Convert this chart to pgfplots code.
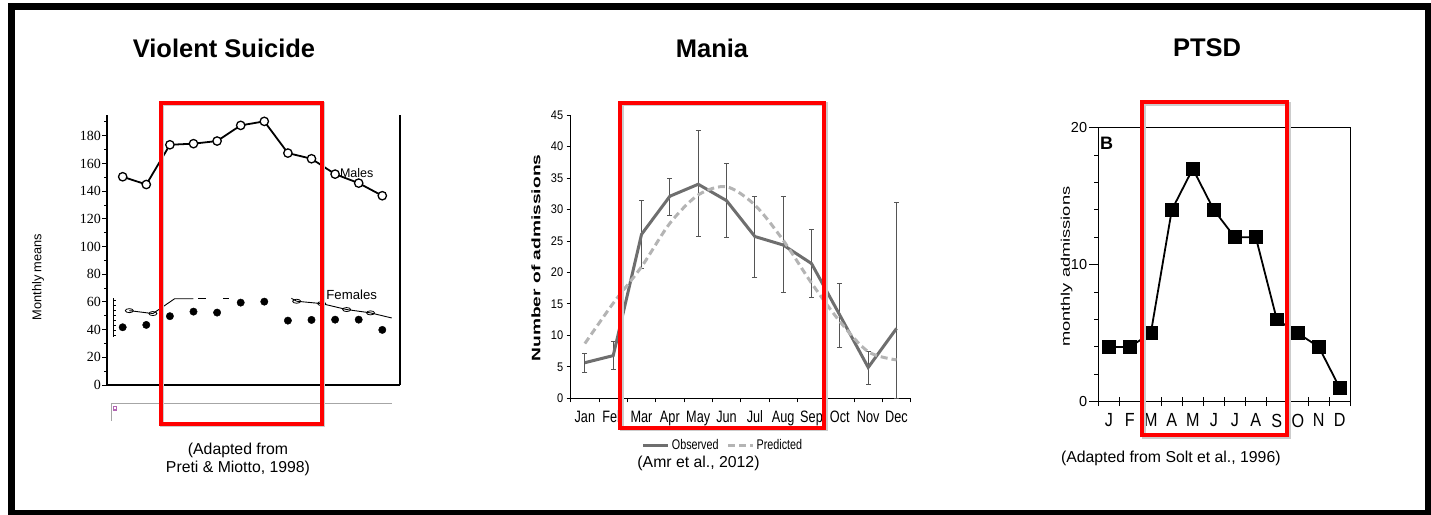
\documentclass[border=0pt]{standalone}
\usepackage{pgfplots}
\pgfplotsset{compat=1.18}
\usetikzlibrary{calc}
\usepackage{graphicx}
\usepackage{fontspec}
\setmainfont{Liberation Sans}
\newfontfamily\serifnum{Liberation Serif}
\newfontfamily\narrowA[FakeStretch=0.77]{Liberation Sans}
\newfontfamily\narrowB[FakeStretch=0.88]{Liberation Sans}
\newfontfamily\narrowC[FakeStretch=0.85]{Liberation Sans}
\definecolor{obsgray}{HTML}{6E6E6E}
\definecolor{predgray}{HTML}{B4B4B4}
\definecolor{errgray}{HTML}{555555}
\begin{document}
\begin{tikzpicture}
\useasboundingbox (0,0) rectangle (1431pt,-514pt);
% ---------------- Panel 1: Violent Suicide ----------------
\begin{axis}[at={(107pt,-385pt)}, anchor=south west, scale only axis,
  width=293pt, height=270pt,
  xmin=0.335, xmax=12.75, ymin=0, ymax=195,
  axis x line*=bottom, axis y line*=left,
  axis line style={line width=1.6pt, black},
  xtick=\empty,
  ytick={0,20,...,180}, minor ytick={10,30,...,190},
  tick align=outside, major tick length=5pt, minor tick length=3pt,
  tick style={black, line width=1pt},
  /pgf/number format/assume math mode=true,
  yticklabel style={font=\serifnum\fontsize{14}{14}\selectfont, inner sep=1pt},
  clip=false]
\draw[line width=1.6pt] (rel axis cs:1,0) -- (rel axis cs:1,1);
\addplot[black, line width=1.8pt, mark=*, mark size=4.2pt, mark options={fill=white, line width=1.3pt}]
 coordinates {(1,150.4) (2,144.8) (3,173.5) (4,174.3) (5,176.2) (6,187.5) (7,190.4) (8,167.5) (9,163.4) (10,152.3) (11,145.8) (12,136.7)};
\addplot[black, line width=0.9pt, mark=o, mark size=4pt, mark options={yscale=0.5, fill=white, line width=0.8pt}]
 coordinates {(1.28,53.7) (2.28,51.6)};
\addplot[black, line width=0.9pt, mark=none]
 coordinates {(2.28,51.6) (3.2,62.3) (4.0,62.3)};
\addplot[black, line width=0.9pt, mark=none] coordinates {(4.2,62.3) (4.55,62.3)};
\addplot[black, line width=0.9pt, mark=none] coordinates {(5.25,62.3) (5.5,62.3)};
\addplot[black, line width=0.9pt, mark=none] coordinates {(8.15,62.6) (8.37,60.5)};
\addplot[black, line width=0.9pt, mark=o, mark size=4pt, mark options={yscale=0.5, fill=white, line width=0.8pt}]
 coordinates {(8.37,60.5) (9.43,58.8) (10.49,54.5) (11.5,52.1)};
\addplot[black, line width=0.9pt, mark=none] coordinates {(11.5,52.1) (12.4,48.4)};
\addplot[only marks, mark=*, mark size=3.7pt, black]
 coordinates {(1,41.7) (2,43.4) (3,49.7) (4,53.0) (5,52.3) (6,59.5) (7,60.2) (8,46.5) (9,47.0) (10,47.2) (11,47.2) (12,39.8)};
\end{axis}
% ---------------- Panel 2: Mania ----------------
\begin{axis}[at={(570.7pt,-398.3pt)}, anchor=south west, scale only axis,
  width=340pt, height=283.3pt,
  xmin=0.5, xmax=12.5, ymin=0, ymax=45,
  axis x line*=bottom, axis y line*=left,
  axis line style={black, line width=1pt},
  xtick={0.5,1.5,...,12.5}, x tick label as interval,
  xticklabels={Jan,Feb,Mar,Apr,May,Jun,Jul,Aug,Sep,Oct,Nov,Dec},
  ytick={0,5,...,45},
  tick align=outside, major tick length=4pt,
  tick style={black, line width=0.8pt},
  /pgf/number format/assume math mode=true,
  xticklabel style={font=\narrowA\fontsize{16.5}{16.5}\selectfont, yshift=-5pt},
  yticklabel style={font=\narrowB\fontsize{12.5}{12.5}\selectfont},
  legend style={at={(0.448,-0.165)}, anchor=center, draw=none, fill=none,
    legend columns=2, font=\narrowA\fontsize{14}{14}\selectfont,
    /tikz/every even column/.append style={column sep=6pt}},
  legend image code/.code={\draw[#1] (0pt,0pt) -- (25pt,0pt);},
  clip=false]
\addplot[errgray, line width=0.9pt, draw=none, mark=none, forget plot,
  error bars/.cd, y dir=both, y explicit,
  error bar style={draw=errgray, line width=0.9pt},
  error mark=-, error mark options={draw=errgray, rotate=90, line width=0.9pt, mark size=2.4pt}]
 coordinates {
 (1,5.66) += (0,1.49) -= (0,1.53)
 (2,6.78) += (0,2.22) -= (0,2.18)
 (3,26.05) += (0,5.45) -= (0,5.4)
 (4,32.1) += (0,2.9) -= (0,3.0)
 (5,34.0) += (0,8.5) -= (0,8.3)
 (6,31.4) += (0,5.9) -= (0,5.8)
 (7,25.7) += (0,6.4) -= (0,6.5)
 (8,24.35) += (0,7.75) -= (0,7.55)
 (9,21.4) += (0,5.4) -= (0,5.4)
 (10,13.2) += (0,5.1) -= (0,5.1)
 (11,4.9) += (0,2.5) -= (0,2.7)
 (12,11.1) += (0,20.0) -= (0,11.1)
 };
\addplot[color=obsgray, line width=3pt, mark=none]
 coordinates {(1,5.66) (2,6.78) (3,26.05) (4,32.1) (5,34.0) (6,31.4) (7,25.7) (8,24.35) (9,21.4) (10,13.2) (11,4.9) (12,11.1)};
\addlegendentry{Observed}
\addplot[color=predgray, line width=3pt, dash pattern=on 7pt off 4pt, smooth, mark=none]
 coordinates {(1,8.7) (2,15.1) (3,20.9) (4,27.8) (5,32.3) (6,33.6) (7,30.7) (8,25.1) (9,18.3) (10,12.2) (11,7.4) (12,6.1)};
\addlegendentry{Predicted}
\end{axis}
% ---------------- Panel 3: PTSD ----------------
\begin{axis}[at={(1098.3pt,-401.7pt)}, anchor=south west, scale only axis,
  width=252pt, height=274pt,
  xmin=0.5, xmax=12.5, ymin=0, ymax=20,
  axis line style={black, line width=1.5pt},
  xtick={0.5,1.5,...,12.5}, x tick label as interval,
  xticklabels={J,F,M,A,M,J,J,A,S,O,N,D},
  ytick={0,10,20}, minor ytick={2,4,6,8,12,14,16,18},
  xtick pos=bottom, ytick pos=left,
  y tick style={black, line width=1pt},
  x tick style={black, line width=1pt},
  xtick align=center, ytick align=outside,
  major tick length=9pt, minor tick length=4pt,
  /pgf/number format/assume math mode=true,
  xticklabel style={font=\narrowC\fontsize{19}{19}\selectfont, yshift=-4pt},
  yticklabel style={font=\fontsize{14.5}{14.5}\selectfont, inner sep=2pt},
  clip=false]
\addplot[black, line width=1.8pt, mark=square*, mark size=6pt]
 coordinates {(1,4) (2,4) (3,5) (4,14) (5,17) (6,14) (7,12) (8,12) (9,6) (10,5) (11,4) (12,1)};
\end{axis}
% ---------------- Annotations (pixel coordinates) ----------------
\begin{scope}[x=1pt, y=-1pt]
\draw[black, line width=7pt] (11.5,6.5) rectangle (1428.5,513.5);
% titles
\node[font=\bfseries\fontsize{25.5}{25.5}\selectfont] at (224,48) {Violent Suicide};
\node[font=\bfseries\fontsize{25.5}{25.5}\selectfont] at (712,48) {Mania};
\node[font=\bfseries\fontsize{25.5}{25.5}\selectfont] at (1207,48) {PTSD};
% panel 1 extras
\node[rotate=90, font=\fontsize{12.8}{12.8}\selectfont] at (38,277) {Monthly means};
\node[font=\fontsize{12.5}{12.5}\selectfont, fill=none] at (356.7,173.3) {Males};
\node[font=\fontsize{13.2}{13.2}\selectfont] at (351.7,295) {Females};
\draw[black, line width=1pt] (113.3,298) -- (113.3,337);
\foreach \t in {300,305,...,335} \draw[black, line width=0.6pt] (113.3,\t) -- (116,\t);
\draw[black!35, line width=0.8pt] (111.7,420.7) -- (111.7,403) -- (391.7,403);
\fill[violet!60] (112.5,405.5) rectangle (116.5,411);
\fill[white] (113.5,406.5) rectangle (115.5,408.5);
\node[align=center, font=\fontsize{15.8}{17.6}\selectfont] at (238,459.5) {(Adapted from\\Preti \& Miotto, 1998)};
% panel 2 extras
\node[rotate=90] at (536,258) {\scalebox{1.56}[1]{\bfseries\fontsize{12.3}{12.3}\selectfont Number of admissions}};
\node[font=\fontsize{15.8}{15.8}\selectfont] at (698.5,463) {(Amr et al., 2012)};
% panel 3 extras
\node[rotate=90] at (1066.7,266.7) {\scalebox{1.46}[1]{\fontsize{12.5}{12.5}\selectfont monthly admissions}};
\node[font=\bfseries\fontsize{18}{18}\selectfont] at (1106.7,143.3) {B};
\node[font=\fontsize{15.8}{15.8}\selectfont] at (1170.8,458.3) {(Adapted from Solt et al., 1996)};
% red highlight boxes
\foreach \a/\b/\c/\d in {160.5/102.5/321.5/423.5, 620/102.5/824/427.5, 1142/102/1287/435} {
  \draw[black!20, line width=4pt] ($(\a,\b)+(1.5,1.5)$) rectangle ($(\c,\d)+(1.5,1.5)$);
  \draw[red, line width=4pt] (\a,\b) rectangle (\c,\d);
}
\end{scope}
\end{tikzpicture}
\end{document}
